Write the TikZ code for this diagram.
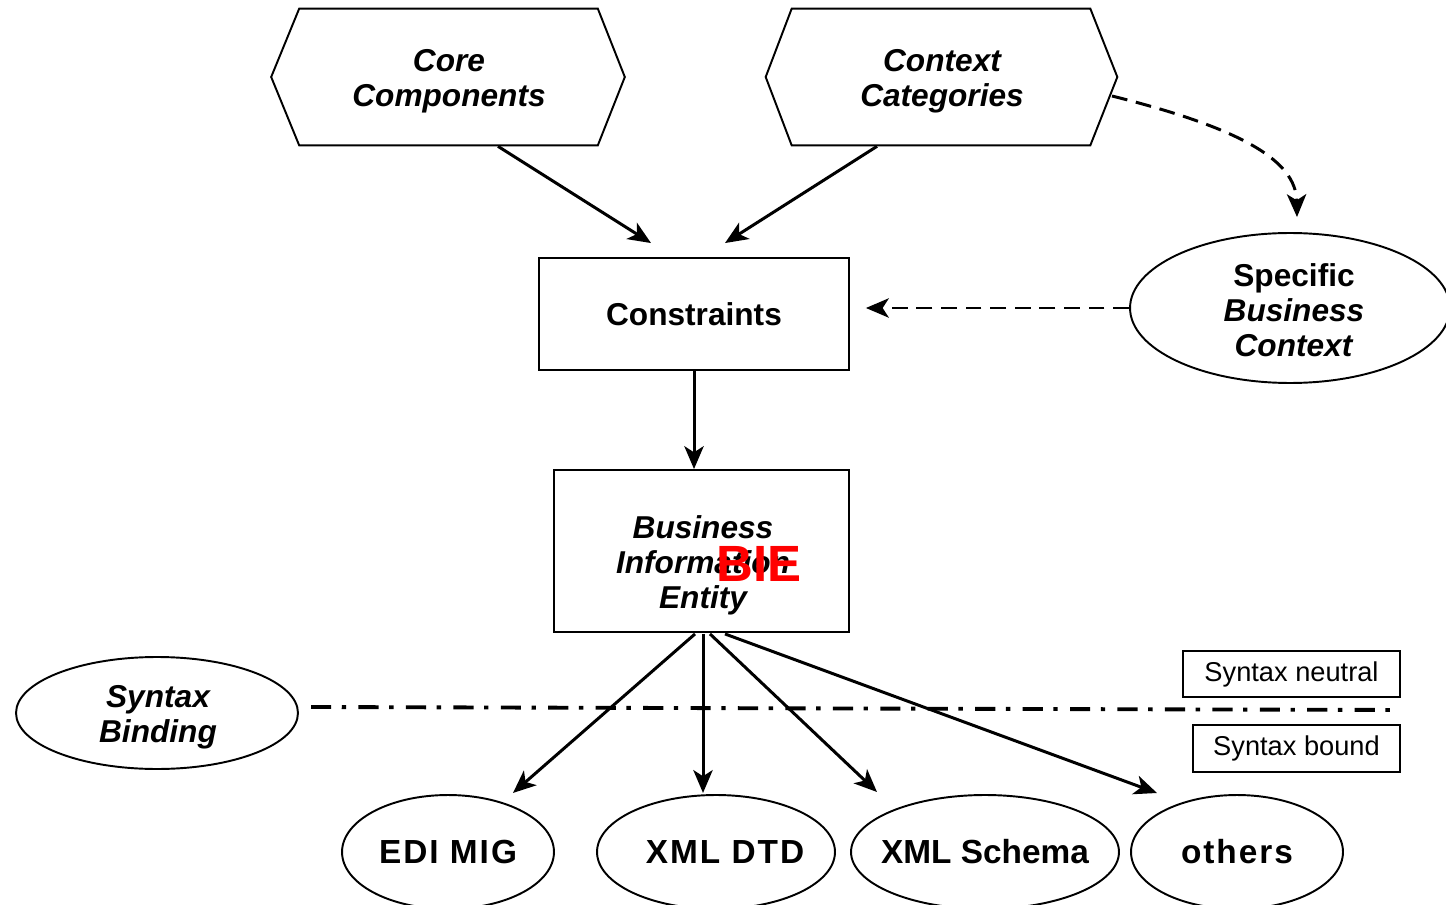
\documentclass[tikz,border=0pt]{standalone}
\usepackage{fontspec}
\setmainfont{Liberation Sans}
\usetikzlibrary{arrows.meta,calc,shapes.geometric}
\begin{document}
\begin{tikzpicture}[x=0.02cm,y=-0.02cm,
  every node/.style={align=center},
  bi/.style={font=\fontsize{18}{20}\selectfont\bfseries\itshape},
  hexbox/.style={minimum width=5.96cm, minimum height=2.72cm, inner sep=0pt},
  box/.style={draw, line width=1.1pt, inner sep=0pt},
  oval/.style={draw, ellipse, line width=1.1pt, inner sep=0pt},
  arr/.style={line width=1.7pt, -{Stealth[length=13pt,width=11pt,inset=3.5pt]}},
  darr/.style={arr, dash pattern=on 9pt off 5pt},
  lbl/.style={font=\fontsize{19}{22}\selectfont\bfseries},
  wide/.style={font=\fontsize{19}{22}\selectfont\bfseries\addfontfeatures{LetterSpace=6}},
  small/.style={font=\fontsize{15.5}{18}\selectfont}
]
\useasboundingbox (0,0) rectangle (1446,905);
\fill[white] (0,0) rectangle (1446,905);

% hexagons
\node[hexbox] (cc) at (448.5,77) {};
\draw[line width=1.1pt] (cc.north west) -- (cc.north east) -- ($(cc.east)+(27,0)$) -- (cc.south east) -- (cc.south west) -- ($(cc.west)+(-28,0)$) -- cycle;
\node[bi] (cctext) at (449,81) {Core\\Components};
\node[hexbox] (cx) at (941,77) {};
\draw[line width=1.1pt] (cx.north west) -- (cx.north east) -- ($(cx.east)+(27,0)$) -- (cx.south east) -- (cx.south west) -- ($(cx.west)+(-26,0)$) -- cycle;
\node[bi] (cxtext) at (942,81) {Context\\Categories};

% boxes
\node[box, minimum width=6.2cm, minimum height=2.24cm, font=\fontsize{18}{20}\selectfont\bfseries] (con) at (694,314) {Constraints};
\node[box, minimum width=5.9cm, minimum height=3.24cm] (bie) at (701.5,551) {};
\node[bi] (bietext) at (703,565) {Business\\Information\\Entity};
\node[text=red, font=\fontsize{29}{30}\selectfont\bfseries, inner sep=0pt] (bielbl) at (759,564) {BIE};

% ellipses
\node[oval, minimum width=6.4cm, minimum height=3cm] (sbc) at (1290,308) {};
\node[font=\fontsize{18}{20}\selectfont\bfseries] (sbctext) at (1294,310)
  {Specific\\\textit{Business}\\\textit{Context}};
\node[oval, minimum width=5.64cm, minimum height=2.24cm] (sb) at (157,713) {};
\node[bi] (sbtext) at (158,717) {Syntax\\Binding};

\node[box, small, minimum width=4.34cm, minimum height=0.92cm] (sn) at (1291.5,674) {\raisebox{-0.04cm}{Syntax neutral}};
\node[box, small, minimum width=4.14cm, minimum height=0.94cm] (sbd) at (1296.5,748.5) {\raisebox{-0.04cm}{Syntax bound}};

\node[oval, wide, minimum width=4.24cm, minimum height=2.28cm] (edi) at (448,852) {\makebox[0pt]{EDI MIG}};
\node[oval, wide, minimum width=4.76cm, minimum height=2.28cm] (dtd) at (716,852) {\makebox[0pt]{\hspace{0.36cm}XML DTD}};
\node[oval, lbl, minimum width=5.36cm, minimum height=2.28cm] (xsd) at (985,852) {\makebox[0pt]{XML Schema}};
\node[oval, wide, minimum width=4.24cm, minimum height=2.28cm] (oth) at (1237,852) {\makebox[0pt]{others}};

% separator
\draw[line width=2.2pt, dash pattern=on 11.5pt off 6pt on 2.5pt off 7pt] (311,707) -- (1402,710);

% connectors
\draw[arr] ($(cc.south)+(49.5,1)$) -- ($(con.north)+(-43,-14)$);
\draw[arr] ($(cx.south)+(-64,1)$) -- ($(con.north)+(31,-14)$);
\draw[arr] (con.south) -- (con.south |- bie.north);
\draw[darr] (sbc.west) -- ($(con.east |- sbc.west)+(16,0)$);
\draw[darr] (1112,96) .. controls (1240,128) and (1296,160) .. ($(sbc.north)+(7,-15)$);

\coordinate (e3) at (877,792);
\coordinate (e4) at (1157,793);
\draw[arr] ($(bie.south)+(-6.5,1)$) -- ($(bie.south)+(-188.5,160)$);
\draw[arr] ($(bie.south)+(1.5,1)$) -- ($(bie.south)+(1.5,160)$);
\draw[arr] ($(bie.south)+(8.5,1)$) -- (e3);
\draw[arr] ($(bie.south)+(23.5,1)$) -- (e4);
\end{tikzpicture}
\end{document}
